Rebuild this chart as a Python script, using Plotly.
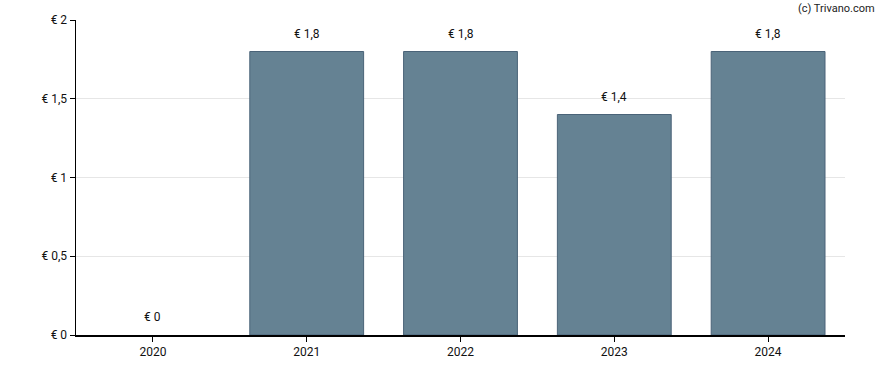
import plotly.graph_objects as go

years = ["2020", "2021", "2022", "2023", "2024"]
values = [0, 1.8, 1.8, 1.4, 1.8]
labels = ["€ 0", "€ 1,8", "€ 1,8", "€ 1,4", "€ 1,8"]
y_ticks = [0, 0.5, 1, 1.5, 2]
y_tick_text = ["€ 0", "€ 0,5", "€ 1", "€ 1,5", "€ 2"]

fig = go.Figure()
fig.add_trace(go.Bar(
    x=years, y=values, width=0.74,
    marker=dict(color="#658293",
                line=dict(color="#4a6378", width=[0 if v == 0 else 1 for v in values])),
    hoverinfo="skip",
))

for i, (v, t) in enumerate(zip(values, labels)):
    fig.add_annotation(x=i, y=v, xref="x", yref="y", text=t, showarrow=False,
                       yanchor="middle", yshift=18,
                       font=dict(family="Roboto", size=12, color="#111"))

fig.add_annotation(x=1, y=1, xref="paper", yref="paper", xanchor="right", yanchor="middle",
                   text="(c) Trivano.com", showarrow=False, xshift=32, yshift=12,
                   font=dict(family="Roboto", size=11, color="#222"))

fig.update_layout(
    width=888, height=370,
    margin=dict(l=76, r=43, t=20, b=35),
    plot_bgcolor="white", paper_bgcolor="white",
    showlegend=False, hovermode=False,
    font=dict(family="Roboto", size=12, color="#111"),
    xaxis=dict(type="category", range=[-0.5, 4.5], showline=True, linecolor="black",
               linewidth=1.5, ticks="outside", ticklen=5, tickcolor="black", showgrid=False),
    yaxis=dict(range=[0, 2], tickvals=y_ticks, ticktext=y_tick_text, showline=True,
               linecolor="black", linewidth=1.5, ticks="outside", ticklen=5,
               tickcolor="black", showgrid=True, gridcolor="#e6e6e6", zeroline=False),
)

fig.write_html("out.html", config={"displayModeBar": False, "staticPlot": True})

with open("out.html", encoding="utf-8") as f:
    html = f.read()
html = html.replace("<body>", "<body style=\"margin:0;padding:0;overflow:hidden\">", 1)
with open("out.html", "w", encoding="utf-8") as f:
    f.write(html)
